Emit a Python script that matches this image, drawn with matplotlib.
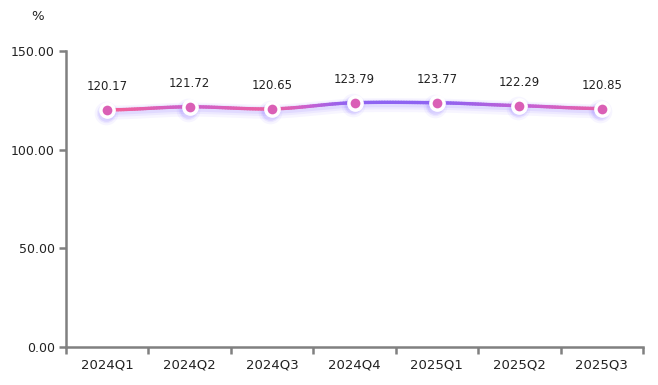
import numpy as np
import matplotlib
matplotlib.use("Agg")
import matplotlib.pyplot as plt
from matplotlib.collections import LineCollection
from matplotlib.colors import LinearSegmentedColormap, Normalize

plt.rcParams['font.family'] = ['DejaVu Sans', 'Noto Sans CJK SC']

categories = ["2024Q1", "2024Q2", "2024Q3", "2024Q4", "2025Q1", "2025Q2", "2025Q3"]
values = [120.17, 121.72, 120.65, 123.79, 123.77, 122.29, 120.85]
y_ticks = [0, 50, 100, 150]
y_unit = "%"

W, H = 658, 385
fig = plt.figure(figsize=(W / 100, H / 100), dpi=100)
ax = fig.add_axes([66 / W, (H - 347) / H, (643 - 66) / W, (347 - 51) / H])

n = len(categories)
x = np.arange(n)
y = np.array(values, dtype=float)

# smooth curve (cardinal spline between points, drawing only)
def smooth(xp, yp, k=0.35, per=30):
    m = np.zeros_like(yp)
    m[1:-1] = (yp[2:] - yp[:-2]) / 2
    m *= 2 * k
    xs, ys = [], []
    for i in range(len(xp) - 1):
        t = np.linspace(0, 1, per, endpoint=False)
        h00 = 2 * t**3 - 3 * t**2 + 1
        h10 = t**3 - 2 * t**2 + t
        h01 = -2 * t**3 + 3 * t**2
        h11 = t**3 - t**2
        xs.append(xp[i] + t * (xp[i + 1] - xp[i]))
        ys.append(h00 * yp[i] + h10 * m[i] + h01 * yp[i + 1] + h11 * m[i + 1])
    xs.append([xp[-1]])
    ys.append([yp[-1]])
    return np.concatenate(xs), np.concatenate(ys)

xs, ys = smooth(x.astype(float), y)

# shadow glow
for off, lw, a in [(1.4, 10, 0.06), (1.1, 7, 0.08), (0.9, 4.5, 0.10)]:
    ax.plot(xs, ys - off, color="#7b5cff", lw=lw, alpha=a, solid_capstyle="round", zorder=2)
for xi, yi in zip(x, y):
    for r, a in [(17, 0.06), (14, 0.09), (12, 0.13)]:
        ax.plot(xi - 0.02, yi - 1.4, "o", ms=r, color="#7b5cff", alpha=a, mec="none", zorder=2)

cmap = LinearSegmentedColormap.from_list("pp", ["#f2609a", "#c960d0", "#8e63f2"])
pts = np.array([xs, ys]).T.reshape(-1, 1, 2)
segs = np.concatenate([pts[:-1], pts[1:]], axis=1)
lc = LineCollection(segs, cmap=cmap, norm=Normalize(120.2, 123.8), linewidths=2.4, zorder=3,
                    capstyle="round")
lc.set_array((ys[:-1] + ys[1:]) / 2)
ax.add_collection(lc)

ax.plot(x, y, "o", ms=11, mfc="white", mec="white", zorder=4)
ax.plot(x, y, "o", ms=7, mfc="#da5fb6", mec="none", zorder=5)

for xi, yi in zip(x, y):
    ax.annotate(f"{yi:.2f}", (xi, yi), xytext=(0, 12), textcoords="offset points",
                ha="center", va="bottom", fontsize=8.5, color="#222222", zorder=6)

ax.set_xlim(-0.5, n - 0.5)
ax.set_ylim(0, 150)
ax.set_yticks(y_ticks)
ax.set_yticklabels([f"{v:.2f}" for v in y_ticks])
ax.set_xticks(np.arange(n + 1) - 0.5, minor=True)
ax.set_xticks(x)
ax.set_xticklabels(categories)
ax.tick_params(axis="x", which="major", length=0, pad=8, labelsize=9.5, labelcolor="#222222")
ax.tick_params(axis="x", which="minor", length=5, width=1.8, color="#808080", direction="out")
ax.tick_params(axis="y", length=5, width=1.8, color="#808080", labelsize=9, labelcolor="#222222", pad=3)

for s in ["top", "right"]:
    ax.spines[s].set_visible(False)
for s in ["left", "bottom"]:
    ax.spines[s].set_color("#808080")
    ax.spines[s].set_linewidth(1.8)

fig.text(38 / W, (H - 17) / H, y_unit, ha="center", va="center", fontsize=9.5, color="#222222")

fig.savefig("out.png", dpi=100)
